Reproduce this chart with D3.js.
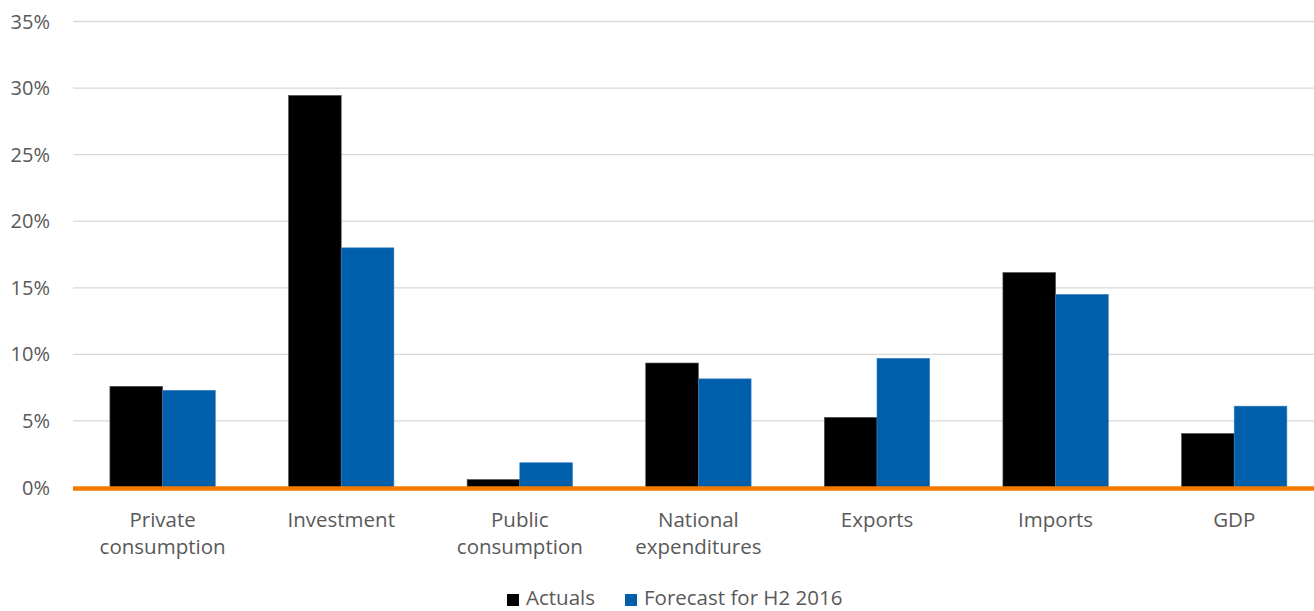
<!DOCTYPE html>
<html><head><meta charset="utf-8">
<script src="https://cdn.jsdelivr.net/npm/d3@7"></script>
<style>body{margin:0;background:#fff}svg{display:block}text{font-family:"Open Sans",sans-serif;fill:#595959}</style>
</head><body>
<script>
const categories = [["Private","consumption"],["Investment"],["Public","consumption"],["National","expenditures"],["Exports"],["Imports"],["GDP"]];
const seriesNames = ["Actuals","Forecast for H2 2016"];
const actuals = [7.6, 29.45, 0.6, 9.35, 5.27, 16.15, 4.06];
const forecast = [7.3, 18.0, 1.86, 8.16, 9.7, 14.5, 6.11];
const yTicks = [0,5,10,15,20,25,30,35];
const colors = ["#000000","#005FAB"];

const W=1314,H=611;
const svg=d3.select("body").append("svg").attr("width",W).attr("height",H);
const x=d3.scaleBand().domain(d3.range(categories.length)).range([73.3,1323.5]).paddingInner(0.41).paddingOuter(0.205);
const y=d3.scaleLinear().domain([0,35]).range([487.5,21.5]);
const xs=d3.scaleBand().domain([0,1]).range([0,x.bandwidth()]);

// gridlines
svg.append("g").selectAll("line").data(yTicks.filter(d=>d>0)).join("line")
 .attr("x1",73).attr("x2",W).attr("y1",d=>y(d)).attr("y2",d=>y(d))
 .attr("stroke","#d9d9d9").attr("stroke-width",1.3);
// y labels
svg.append("g").selectAll("text").data(yTicks).join("text")
 .attr("x",50).attr("y",d=>y(d)).attr("dy","0.35em").attr("text-anchor","end")
 .attr("font-size",20).text(d=>d+"%");

const series=[actuals,forecast];
series.forEach((s,si)=>{
 svg.append("g").selectAll("rect").data(s).join("rect")
  .attr("x",(d,i)=>x(i)+xs(si)).attr("width",xs.bandwidth())
  .attr("y",d=>y(d)).attr("height",d=>y(0)-y(d))
  .attr("fill",colors[si]).attr("stroke",si==0?"#555":"#3a7fc0").attr("stroke-width",0.6);
});
// zero line
svg.append("line").attr("x1",73).attr("x2",W).attr("y1",y(0)+1).attr("y2",y(0)+1)
 .attr("stroke","#F47A00").attr("stroke-width",4.5);

// x labels
const xl=svg.append("g").selectAll("text").data(categories).join("text")
 .attr("text-anchor","middle").attr("font-size",20.5)
 .attr("transform",(d,i)=>`translate(${x(i)+x.bandwidth()/2},527)`);
xl.selectAll("tspan").data(d=>d).join("tspan").attr("x",0).attr("dy",(d,i)=>i?27:0).text(d=>d);

// legend
const leg=[{x:507,tx:526},{x:625,tx:644}];
seriesNames.forEach((n,i)=>{
 svg.append("rect").attr("x",leg[i].x).attr("y",594).attr("width",12).attr("height",12).attr("fill",colors[i]);
 svg.append("text").attr("x",leg[i].tx).attr("y",605).attr("font-size",20.5).text(n);
});
</script>
</body></html>
